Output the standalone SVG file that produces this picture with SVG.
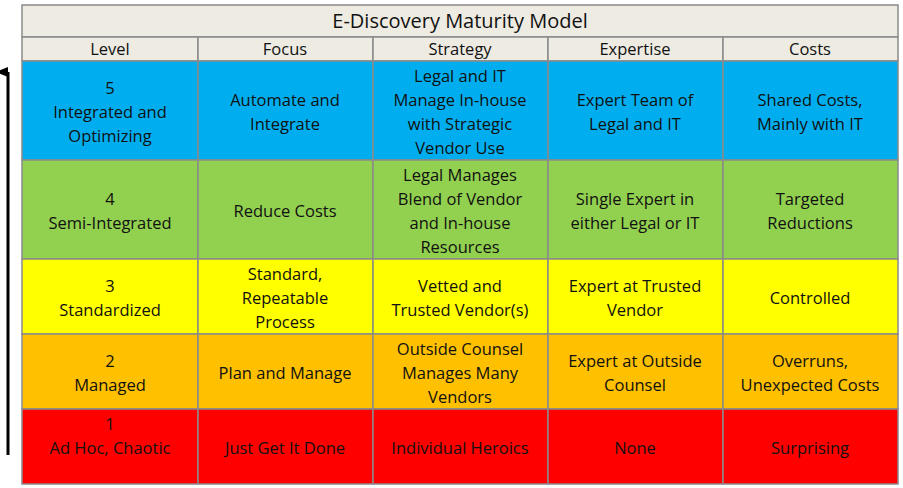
<svg xmlns="http://www.w3.org/2000/svg" width="903" height="488" viewBox="0 0 903 488">
<style>
.c{stroke:#8a8a8a;stroke-width:1.5}
text{font-family:"Open Sans","Liberation Sans",sans-serif;font-size:16.5px;fill:#111;text-anchor:middle}
.t{font-size:20px}
</style>
<defs><marker id="ah" markerWidth="10" markerHeight="12" refX="5" refY="12" orient="auto" markerUnits="userSpaceOnUse" viewBox="0 0 10 12"><path d="M0,12 L5,0 L10,12 Z" fill="#000"/></marker></defs>
<rect width="903" height="488" fill="#fff"/>
<g id="connectors"><line x1="8" y1="455" x2="8" y2="72" stroke="#000" stroke-width="3" marker-end="url(#ah)"/></g>
<g id="title"><rect class="c" x="22" y="5" width="876" height="32" fill="#EEEBE2"/><text class="t" x="460" y="28">E-Discovery Maturity Model</text></g>
<g id="header">
<rect class="c" x="22" y="37" width="176" height="24" fill="#EEEBE2"/><rect class="c" x="198" y="37" width="175" height="24" fill="#EEEBE2"/><rect class="c" x="373" y="37" width="175" height="24" fill="#EEEBE2"/><rect class="c" x="548" y="37" width="175" height="24" fill="#EEEBE2"/><rect class="c" x="723" y="37" width="175" height="24" fill="#EEEBE2"/>
<text x="110" y="55">Level</text><text x="285" y="55">Focus</text><text x="460" y="55">Strategy</text><text x="635" y="55">Expertise</text><text x="810" y="55">Costs</text>
</g>
<g id="row5">
<rect class="c" x="22" y="61" width="176" height="99" fill="#00AEEF"/><rect class="c" x="198" y="61" width="175" height="99" fill="#00AEEF"/><rect class="c" x="373" y="61" width="175" height="99" fill="#00AEEF"/><rect class="c" x="548" y="61" width="175" height="99" fill="#00AEEF"/><rect class="c" x="723" y="61" width="175" height="99" fill="#00AEEF"/>
<text x="110" y="94">5</text><text x="110" y="118">Integrated and</text><text x="110" y="142">Optimizing</text>
<text x="285" y="106">Automate and</text><text x="285" y="130">Integrate</text>
<text x="460" y="82">Legal and IT</text><text x="460" y="106">Manage In-house</text><text x="460" y="130">with Strategic</text><text x="460" y="154">Vendor Use</text>
<text x="635" y="106">Expert Team of</text><text x="635" y="130">Legal and IT</text>
<text x="810" y="106">Shared Costs,</text><text x="810" y="130">Mainly with IT</text>
</g>
<g id="row4">
<rect class="c" x="22" y="160" width="176" height="99" fill="#92D050"/><rect class="c" x="198" y="160" width="175" height="99" fill="#92D050"/><rect class="c" x="373" y="160" width="175" height="99" fill="#92D050"/><rect class="c" x="548" y="160" width="175" height="99" fill="#92D050"/><rect class="c" x="723" y="160" width="175" height="99" fill="#92D050"/>
<text x="110" y="205">4</text><text x="110" y="229">Semi-Integrated</text>
<text x="285" y="217">Reduce Costs</text>
<text x="460" y="181">Legal Manages</text><text x="460" y="205">Blend of Vendor</text><text x="460" y="229">and In-house</text><text x="460" y="253">Resources</text>
<text x="635" y="205">Single Expert in</text><text x="635" y="229">either Legal or IT</text>
<text x="810" y="205">Targeted</text><text x="810" y="229">Reductions</text>
</g>
<g id="row3">
<rect class="c" x="22" y="259" width="176" height="75" fill="#FFFF00"/><rect class="c" x="198" y="259" width="175" height="75" fill="#FFFF00"/><rect class="c" x="373" y="259" width="175" height="75" fill="#FFFF00"/><rect class="c" x="548" y="259" width="175" height="75" fill="#FFFF00"/><rect class="c" x="723" y="259" width="175" height="75" fill="#FFFF00"/>
<text x="110" y="292">3</text><text x="110" y="316">Standardized</text>
<text x="285" y="280">Standard,</text><text x="285" y="304">Repeatable</text><text x="285" y="328">Process</text>
<text x="460" y="292">Vetted and</text><text x="460" y="316">Trusted Vendor(s)</text>
<text x="635" y="292">Expert at Trusted</text><text x="635" y="316">Vendor</text>
<text x="810" y="304">Controlled</text>
</g>
<g id="row2">
<rect class="c" x="22" y="334" width="176" height="75" fill="#FFC000"/><rect class="c" x="198" y="334" width="175" height="75" fill="#FFC000"/><rect class="c" x="373" y="334" width="175" height="75" fill="#FFC000"/><rect class="c" x="548" y="334" width="175" height="75" fill="#FFC000"/><rect class="c" x="723" y="334" width="175" height="75" fill="#FFC000"/>
<text x="110" y="367">2</text><text x="110" y="391">Managed</text>
<text x="285" y="379">Plan and Manage</text>
<text x="460" y="355">Outside Counsel</text><text x="460" y="379">Manages Many</text><text x="460" y="403">Vendors</text>
<text x="635" y="367">Expert at Outside</text><text x="635" y="391">Counsel</text>
<text x="810" y="367">Overruns,</text><text x="810" y="391">Unexpected Costs</text>
</g>
<g id="row1">
<rect class="c" x="22" y="409" width="176" height="75" fill="#FF0000"/><rect class="c" x="198" y="409" width="175" height="75" fill="#FF0000"/><rect class="c" x="373" y="409" width="175" height="75" fill="#FF0000"/><rect class="c" x="548" y="409" width="175" height="75" fill="#FF0000"/><rect class="c" x="723" y="409" width="175" height="75" fill="#FF0000"/>
<text x="110" y="430">1</text><text x="110" y="454">Ad Hoc, Chaotic</text>
<text x="285" y="454">Just Get It Done</text>
<text x="460" y="454">Individual Heroics</text>
<text x="635" y="454">None</text>
<text x="810" y="454">Surprising</text>
</g>
</svg>
